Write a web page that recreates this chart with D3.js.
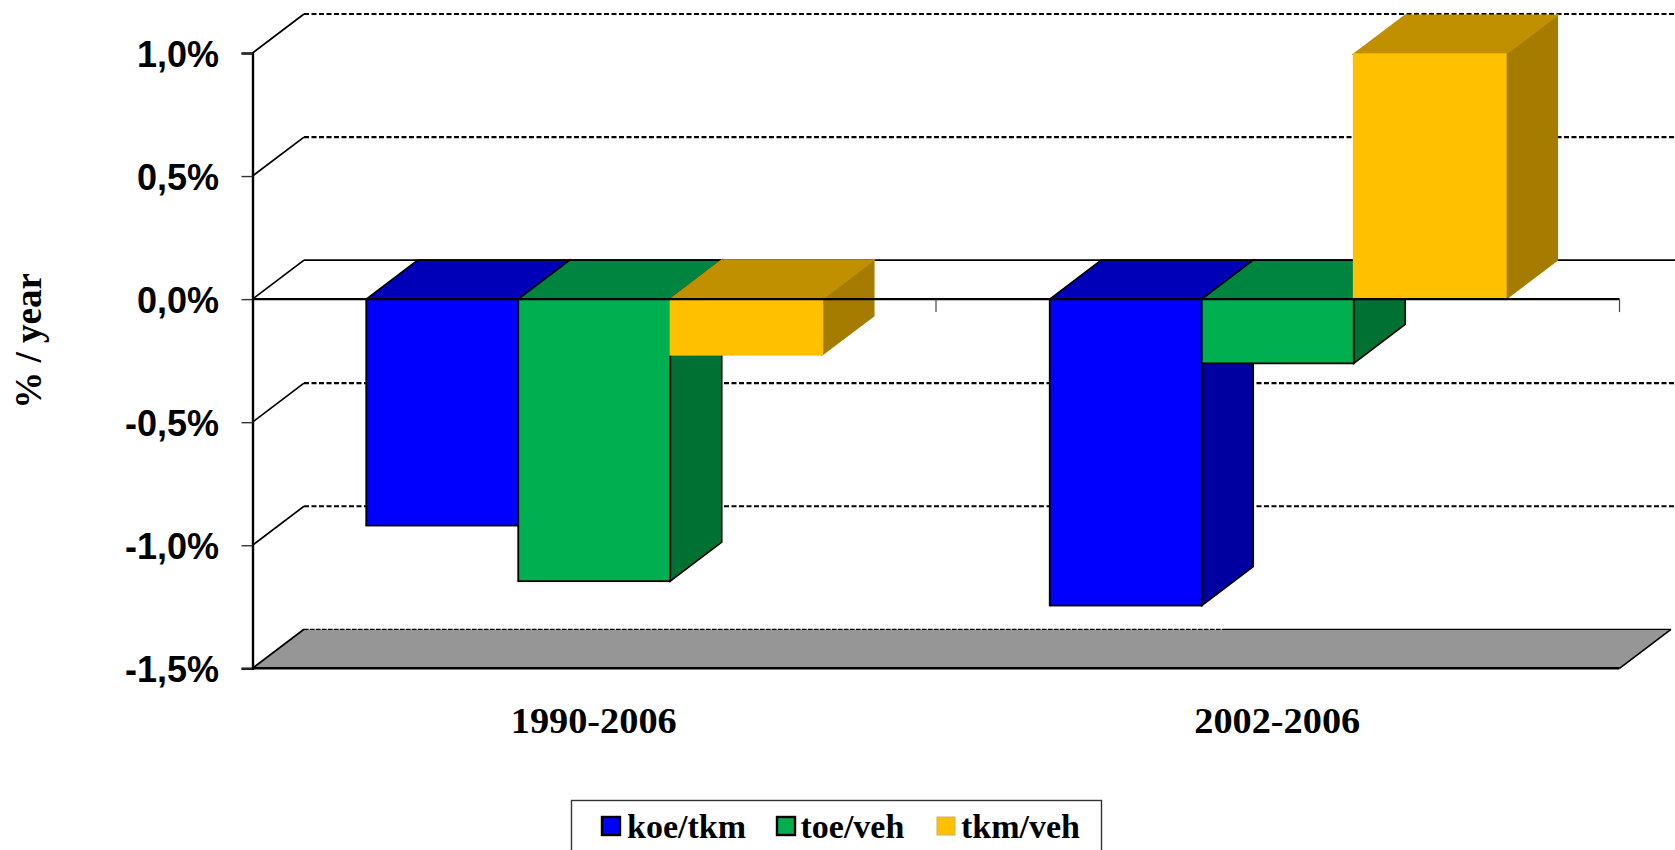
<!DOCTYPE html>
<html>
<head>
<meta charset="utf-8">
<script src="https://cdn.jsdelivr.net/npm/d3@7/dist/d3.min.js"></script>
<style>
html,body{margin:0;padding:0;background:#fff;overflow:hidden}
svg{display:block}
</style>
</head>
<body>
<script>
// Annual change by period, in % per year
const periods = ["1990-2006", "2002-2006"];
const seriesNames = ["koe/tkm", "toe/veh", "tkm/veh"];
const koeTkm = [-0.92, -1.245];
const toeVeh = [-1.146, -0.261];
const tkmVeh = [-0.226, 0.995];
const yTicks = [1, 0.5, 0, -0.5, -1, -1.5];
const yTickLabels = ["1,0%", "0,5%", "0,0%", "-0,5%", "-1,0%", "-1,5%"];
const frontColors = ["#0000FF", "#00B050", "#FFC000"];
const topColors = ["#0000B8", "#008540", "#C09000"];
const sideColors = ["#0000A0", "#007033", "#A57C00"];
const edgeColors = ["#000", "#000", "#FFC000"];

const seriesValues = [koeTkm, toeVeh, tkmVeh];
const W = 1675, H = 850;
const left = 252.5, right = 1619.5, depthX = 51.5, depthY = 39;

const svg = d3.select("body").append("svg").attr("width", W).attr("height", H);
const y = d3.scaleLinear().domain([-1.5, 1]).range([668.3, 53]);
const x0 = d3.scaleBand().domain(periods).range([left, right]);
const groupWidth = 456;
const x1 = d3.scaleBand().domain(seriesNames).range([0, groupWidth]);
const barX = (p, s) => x0(p) + (x0.bandwidth() - groupWidth) / 2 + x1(s);
const poly = pts => pts.map(p => p.join(",")).join(" ");

// Floor of the 3D box
const floorY = y(-1.5);
svg.append("polygon")
  .attr("points", poly([[left, floorY], [right, floorY], [right + depthX, floorY - depthY], [left + depthX, floorY - depthY]]))
  .attr("fill", "#969696");
svg.append("line").attr("x1", right).attr("y1", floorY).attr("x2", right + depthX).attr("y2", floorY - depthY)
  .attr("stroke", "#000").attr("stroke-width", 1.6);

// Back-wall gridlines and their diagonal returns to the value axis
const grid = svg.append("g").attr("fill", "none").attr("stroke", "#000");
yTicks.forEach(v => {
  grid.append("line")
    .attr("x1", left).attr("y1", y(v)).attr("x2", left + depthX).attr("y2", y(v) - depthY)
    .attr("stroke-width", 1.7);
  if (v === -1.5) {
    // The floor's back edge: dashed behind the first group, solid afterwards
    grid.append("line")
      .attr("x1", left + depthX).attr("y1", y(v) - depthY).attr("x2", 1225).attr("y2", y(v) - depthY)
      .attr("stroke-width", 1.3).attr("stroke-dasharray", "4.5 1.5");
    grid.append("line")
      .attr("x1", 1225).attr("y1", y(v) - depthY).attr("x2", right + depthX).attr("y2", y(v) - depthY)
      .attr("stroke-width", 1.3);
  } else {
    grid.append("line")
      .attr("x1", left + depthX).attr("y1", y(v) - depthY).attr("x2", W).attr("y2", y(v) - depthY)
      .attr("stroke-width", v === 0 ? 1.8 : 2.2)
      .attr("stroke-dasharray", v === 0 ? null : "5 2.5");
  }
});

// Value axis
const yAxis = d3.axisLeft(y).tickValues(yTicks).tickSize(11).tickPadding(0)
  .tickFormat((d, i) => yTickLabels[i]);
const yG = svg.append("g").attr("transform", `translate(${left},0)`).call(yAxis);
yG.select(".domain").attr("stroke", "#000").attr("stroke-width", 2.4);
yG.selectAll(".tick line").attr("stroke", "#333").attr("stroke-width", 1.4);
yG.selectAll(".tick text")
  .attr("x", -33.5).attr("dy", 13)
  .attr("fill", "#000")
  .style("font", "bold 36px 'Liberation Sans', Arial, sans-serif");

// Extruded bars: side and top faces first, then the front face
seriesNames.forEach((s, si) => {
  periods.forEach((p, pi) => {
    const v = seriesValues[si][pi];
    const xa = barX(p, s), xb = xa + x1.bandwidth();
    const y0 = y(0), yv = y(v);
    const high = Math.min(y0, yv), low = Math.max(y0, yv);
    const g = svg.append("g");
    const edge = edgeColors[si];
    g.append("polygon")
      .attr("points", poly([[xb, high], [xb + depthX, high - depthY], [xb + depthX, low - depthY], [xb, low]]))
      .attr("fill", sideColors[si]).attr("stroke", si === 2 ? sideColors[si] : edge).attr("stroke-width", 1.6);
    g.append("polygon")
      .attr("points", poly([[xa, high], [xa + depthX, high - depthY], [xb + depthX, high - depthY], [xb, high]]))
      .attr("fill", topColors[si]).attr("stroke", si === 2 ? topColors[si] : edge).attr("stroke-width", 1.6);
    g.append("rect")
      .attr("x", xa).attr("y", high).attr("width", xb - xa).attr("height", low - high)
      .attr("fill", frontColors[si]).attr("stroke", edge).attr("stroke-width", 1.8);
  });
});

// Category axis on the zero line, with ticks at the band edges
const axisG = svg.append("g").attr("stroke", "#000");
axisG.append("line").attr("x1", left).attr("x2", right).attr("y1", y(0)).attr("y2", y(0)).attr("stroke-width", 2.4);
[x0(periods[1]), right].forEach(xp => {
  axisG.append("line").attr("x1", xp).attr("x2", xp).attr("y1", y(0)).attr("y2", y(0) + 13)
    .attr("stroke-width", 1.2).attr("stroke", "#444");
});
axisG.append("line").attr("x1", left).attr("x2", right).attr("y1", floorY).attr("y2", floorY).attr("stroke-width", 2.4);

// Category labels
const serif = "'Liberation Serif', 'Times New Roman', serif";
svg.append("g").selectAll("text").data(periods).join("text")
  .attr("x", p => x0(p) + x0.bandwidth() / 2 - 0.5)
  .attr("y", 733)
  .attr("text-anchor", "middle")
  .attr("textLength", 166)
  .attr("lengthAdjust", "spacingAndGlyphs")
  .style("font", `bold 36px ${serif}`)
  .attr("fill", "#000")
  .text(d => d);

// Axis title
svg.append("text")
  .attr("transform", "translate(41,341) rotate(-90)")
  .attr("text-anchor", "middle")
  .style("font", `bold 37px ${serif}`)
  .attr("fill", "#000")
  .text("% / year");

// Legend
const legendSwatchX = [602, 777, 937];
const legendTextX = [627, 800.5, 961];
const legend = svg.append("g");
legend.append("rect").attr("x", 571.5).attr("y", 800.5).attr("width", 530).attr("height", 60)
  .attr("fill", "#fff").attr("stroke", "#333").attr("stroke-width", 1.4);
seriesNames.forEach((s, i) => {
  legend.append("rect").attr("x", legendSwatchX[i]).attr("y", 817).attr("width", 18).attr("height", 18)
    .attr("fill", frontColors[i]).attr("stroke", i === 2 ? "#c9b060" : "#000").attr("stroke-width", i === 2 ? 1 : 2.4);
  legend.append("text").attr("x", legendTextX[i]).attr("y", 838)
    .style("font", `bold 34px ${serif}`).attr("fill", "#000").text(s);
});
</script>
</body>
</html>
